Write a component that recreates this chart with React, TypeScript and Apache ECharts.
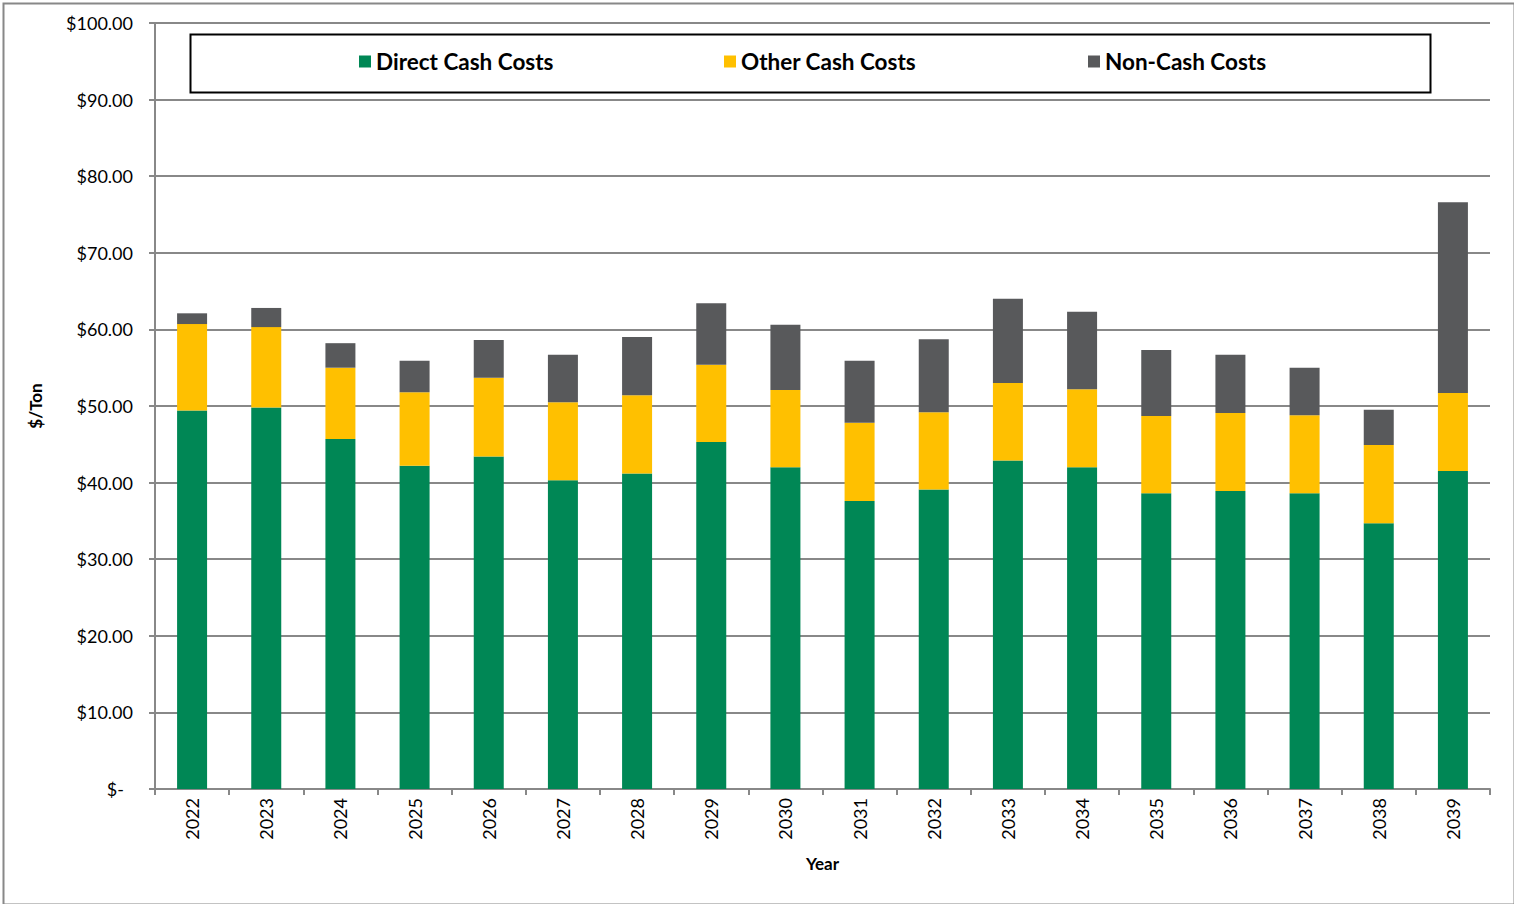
import React, { useEffect, useRef } from "react";
import * as echarts from "echarts";

const years = ["2022","2023","2024","2025","2026","2027","2028","2029","2030","2031","2032","2033","2034","2035","2036","2037","2038","2039"];
const directCash = [49.4, 49.8, 45.7, 42.2, 43.4, 40.3, 41.2, 45.3, 42.0, 37.6, 39.1, 42.9, 42.0, 38.6, 38.9, 38.6, 34.7, 41.5];
const otherCash = [11.3, 10.5, 9.3, 9.6, 10.3, 10.2, 10.2, 10.1, 10.1, 10.2, 10.1, 10.1, 10.2, 10.1, 10.2, 10.2, 10.2, 10.2];
const nonCash = [1.4, 2.5, 3.2, 4.1, 4.9, 6.2, 7.6, 8.0, 8.5, 8.1, 9.5, 11.0, 10.1, 8.6, 7.6, 6.2, 4.6, 24.9];
const seriesNames = ["Direct Cash Costs", "Other Cash Costs", "Non-Cash Costs"];
const colors = ["#008755", "#FFC000", "#58595B"];

const FONT = "Lato, 'Open Sans', sans-serif";

export default function App() {
  const ref = useRef<HTMLDivElement>(null);
  useEffect(() => {
    document.body.style.margin = "0";
    const chart = echarts.init(ref.current!, null, { renderer: "svg" });
    const legendLefts = [359, 724, 1088];
    chart.setOption({
      animation: false,
      textStyle: { fontFamily: FONT },
      grid: { left: 155, right: 24, top: 23, bottom: 115 },
      legend: seriesNames.map((n, i) => ({
        data: [n],
        left: legendLefts[i],
        top: 50,
        z: 20,
        icon: "rect",
        itemWidth: 12,
        itemHeight: 12,
        itemGap: 8,
        padding: 0,
        selectedMode: false,
        textStyle: { fontFamily: FONT, fontSize: 22.5, fontWeight: "bold", color: "#000" },
      })),
      graphic: [
        { type: "rect", left: 1, top: 1, z: 0, shape: { width: 1511, height: 901 }, style: { fill: "none", stroke: "#888", lineWidth: 2 } },
        { type: "rect", left: 188, top: 32, z: 0, shape: { width: 1240, height: 58 }, style: { fill: "none", stroke: "#000", lineWidth: 2 } },
      ],
      xAxis: {
        type: "category",
        data: years,
        name: "Year",
        nameLocation: "middle",
        nameGap: 66,
        nameTextStyle: { fontFamily: FONT, fontSize: 17, fontWeight: "bold", color: "#000" },
        axisLine: { lineStyle: { color: "#888", width: 2 } },
        axisTick: { show: true, alignWithLabel: false, length: 6, lineStyle: { color: "#888", width: 2 } },
        axisLabel: { rotate: 90, fontSize: 18, color: "#000", margin: 9 },
      },
      yAxis: {
        type: "value",
        min: 0,
        max: 100,
        interval: 10,
        name: "$/Ton",
        nameLocation: "middle",
        nameGap: 111,
        nameTextStyle: { fontFamily: FONT, fontSize: 17, fontWeight: "bold", color: "#000" },
        axisLine: { show: true, lineStyle: { color: "#888", width: 2 } },
        axisTick: { show: true, length: 6, lineStyle: { color: "#888", width: 2 } },
        splitLine: { lineStyle: { color: "#888", width: 2 } },
        axisLabel: {
          fontSize: 18,
          color: "#000",
          margin: 22,
          formatter: (v: number) => (v === 0 ? "{z|$-}" : "$" + v.toFixed(2)),
          rich: { z: { fontSize: 18, color: "#000", padding: [0, 9, 0, 0], fontFamily: FONT } },
        },
      },
      series: [directCash, otherCash, nonCash].map((d, i) => ({
        type: "bar",
        name: seriesNames[i],
        stack: "total",
        data: d,
        barWidth: 30,
        itemStyle: { color: colors[i] },
      })),
    });
    return () => chart.dispose();
  }, []);
  return <div ref={ref} style={{ width: 1514, height: 904 }} />;
}
